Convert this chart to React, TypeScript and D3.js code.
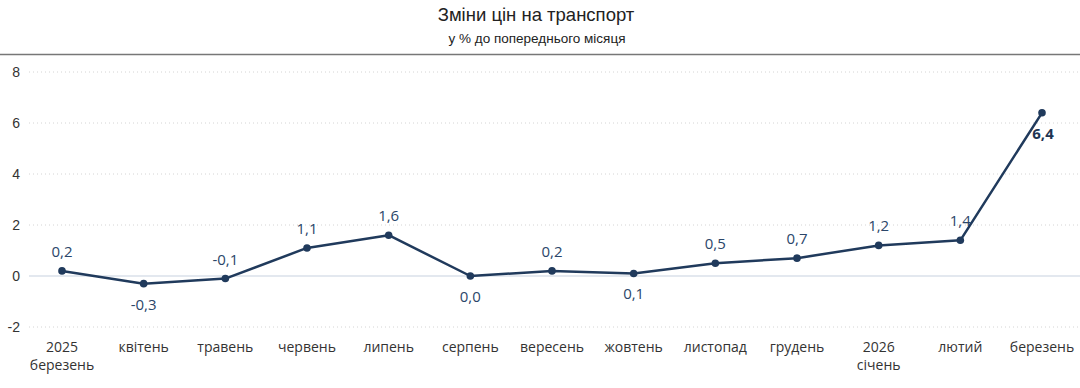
import * as d3 from 'd3';

const months = ['березень', 'квітень', 'травень', 'червень', 'липень', 'серпень', 'вересень', 'жовтень', 'листопад', 'грудень', 'січень', 'лютий', 'березень'];
const years = ['2025', '', '', '', '', '', '', '', '', '', '2026', '', ''];
const values = [0.2, -0.3, -0.1, 1.1, 1.6, 0.0, 0.2, 0.1, 0.5, 0.7, 1.2, 1.4, 6.4];
// label side: 1 = above, -1 = below
const labelSide = [1, -1, 1, 1, 1, -1, 1, -1, 1, 1, 1, 1, -1];
const yTicks = [-2, 0, 2, 4, 6, 8];

const W = 1080;
const H = 388;
const lineColor = '#203a5c';
const labelColor = '#2b4669';

export default function App() {
  const x = d3
    .scalePoint<number>()
    .domain(values.map((_, i) => i))
    .range([62, 1042]);

  const y = d3.scaleLinear().domain([-2, 8]).range([327, 72]);

  const line = d3
    .line<number>()
    .x((_, i) => x(i)!)
    .y((d) => y(d));

  const fmt = (v: number) => v.toFixed(1).replace('.', ',');
  const lastIdx = values.length - 1;

  return (
    <svg width={W} height={H} style={{ position: 'absolute', left: 0, top: 0, background: '#fff' }}>
      <text x={536} y={21} textAnchor="middle" fontFamily="Liberation Sans, Arial" fontSize={18.5} fill="#222">
        Зміни цін на транспорт
      </text>
      <text x={537} y={43} textAnchor="middle" fontFamily="Liberation Sans, Arial" fontSize={13.5} fill="#222">
        у % до попереднього місяця
      </text>
      <line x1={0} x2={W} y1={54.5} y2={54.5} stroke="#777" strokeWidth={1.5} />

      {yTicks.map((t) => (
        <g key={t}>
          {t === 0 ? (
            <line x1={29} x2={W} y1={y(t)} y2={y(t)} stroke="#e3e8ef" strokeWidth={2} />
          ) : (
            <line x1={29} x2={W} y1={y(t)} y2={y(t)} stroke="#d4d4d4" strokeWidth={1} strokeDasharray="1,3" />
          )}
          <text x={20} y={y(t)} dy="0.35em" textAnchor="end" fontFamily="Liberation Sans, Arial" fontSize={14} fill="#333">
            {t}
          </text>
        </g>
      ))}

      {months.map((m, i) => (
        <g key={i} fontFamily="Open Sans, sans-serif" fontSize={14} fill="#333" textAnchor="middle">
          {years[i] ? (
            <>
              <text x={x(i)} y={352}>{years[i]}</text>
              <text x={x(i)} y={370}>{m}</text>
            </>
          ) : (
            <text x={x(i)} y={352}>{m}</text>
          )}
        </g>
      ))}

      <text
        x={x(lastIdx)! + 1}
        y={y(values[lastIdx]) + 26}
        textAnchor="middle"
        fontFamily="Open Sans, sans-serif"
        fontSize={15}
        fontWeight={700}
        fill="#1e3553"
      >
        {fmt(values[lastIdx])}
      </text>

      <path d={line(values) ?? ''} fill="none" stroke={lineColor} strokeWidth={2.5} strokeLinejoin="round" />
      {values.map((v, i) => (
        <circle key={i} cx={x(i)} cy={y(v)} r={3.8} fill={lineColor} />
      ))}

      {values.map((v, i) => {
        if (i === lastIdx) return null;
        const ly = labelSide[i] > 0 ? y(v) - 14 : y(v) + 26;
        return (
          <text
            key={i}
            x={x(i)}
            y={ly}
            textAnchor="middle"
            fontFamily="Open Sans, sans-serif"
            fontSize={15}
            fill={labelColor}
          >
            {fmt(v)}
          </text>
        );
      })}
    </svg>
  );
}
